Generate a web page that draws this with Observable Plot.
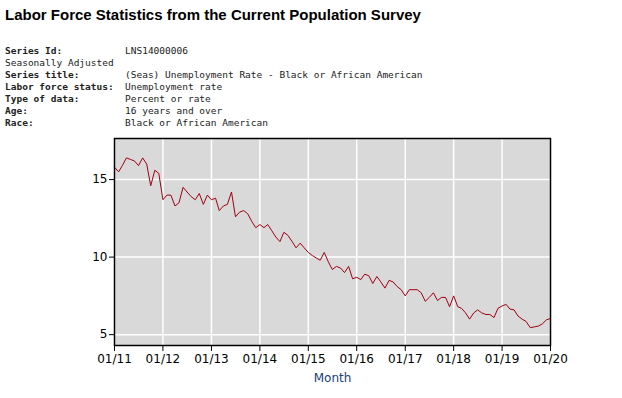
<!DOCTYPE html>
<html>
<head>
<meta charset="utf-8">
<script src="https://cdn.jsdelivr.net/npm/d3@7"></script>
<script src="https://cdn.jsdelivr.net/npm/@observablehq/plot@0.6"></script>
<style>
  html, body { margin: 0; padding: 0; background: #fff; width: 622px; height: 398px; overflow: hidden; }
  #title { position: absolute; left: 5px; top: 6px; font: bold 15px "Liberation Sans", Arial, sans-serif; color: #000; white-space: nowrap; }
  #meta { position: absolute; left: 5px; top: 45px; font: 9.5px "DejaVu Sans Mono", "Liberation Mono", monospace; color: #222; line-height: 12px; }
  #meta .row { height: 12px; white-space: nowrap; position: relative; }
  #meta .k { font-weight: bold; }
  #meta .v { position: absolute; left: 120px; top: 0; }
  #chart { position: absolute; left: 0; top: 130px; }
</style>
</head>
<body>
<div id="title">Labor Force Statistics from the Current Population Survey</div>
<div id="meta"></div>
<div id="chart"></div>
<script>
// ---- data ----
const metaLabels = ["Series Id:", "Seasonally Adjusted", "Series title:", "Labor force status:", "Type of data:", "Age:", "Race:"];
const metaValues = ["LNS14000006", "", "(Seas) Unemployment Rate - Black or African American", "Unemployment rate", "Percent or rate", "16 years and over", "Black or African American"];
const startYear = 2011; // first month: January 2011
const rates = [
  15.8, 15.5, 15.9, 16.4, 16.3, 16.2, 15.9, 16.4, 16.0, 14.6, 15.6, 15.4,
  13.7, 14.0, 14.0, 13.3, 13.5, 14.5, 14.2, 13.9, 13.7, 14.1, 13.4, 14.0,
  13.7, 13.8, 13.0, 13.3, 13.4, 14.2, 12.6, 12.9, 13.0, 12.8, 12.3, 11.9,
  12.1, 11.9, 12.1, 11.7, 11.3, 11.0, 11.6, 11.4, 11.0, 10.6, 10.9, 10.6,
  10.3, 10.1, 9.95, 9.8, 10.3, 9.7, 9.2, 9.4, 9.3, 9.0, 9.4, 8.6,
  8.7, 8.55, 8.9, 8.8, 8.3, 8.75, 8.4, 8.0, 8.5, 8.4, 8.1, 7.9,
  7.5, 7.9, 7.9, 7.9, 7.7, 7.15, 7.4, 7.7, 7.2, 7.4, 7.4, 6.8,
  7.5, 6.8, 6.7, 6.4, 6.0, 6.4, 6.6, 6.4, 6.3, 6.3, 6.1, 6.7,
  6.85, 6.95, 6.65, 6.6, 6.2, 6.0, 5.85, 5.45, 5.5, 5.55, 5.7, 5.95,
  6.05
];
const yTicks = [5, 10, 15];
const xTickYears = [2011, 2012, 2013, 2014, 2015, 2016, 2017, 2018, 2019, 2020];
const xLabel = "Month";

// ---- header ----
const meta = document.getElementById("meta");
metaLabels.forEach((k, i) => {
  const row = document.createElement("div");
  row.className = "row";
  const ks = document.createElement("span");
  ks.textContent = k;
  if (k !== "Seasonally Adjusted") ks.className = "k";
  row.appendChild(ks);
  if (metaValues[i]) {
    const vs = document.createElement("span");
    vs.className = "v";
    vs.textContent = metaValues[i];
    row.appendChild(vs);
  }
  meta.appendChild(row);
});

// ---- chart ----
const data = rates.map((v, i) => ({date: new Date(Date.UTC(startYear + Math.floor(i / 12), i % 12, 1)), rate: v}));
const xTicks = xTickYears.map(y => new Date(Date.UTC(y, 0, 1)));
const fmt = d3.utcFormat("%m/%y");

const chart = Plot.plot({
  width: 622,
  height: 268,
  marginTop: 8,
  marginBottom: 53,
  marginLeft: 114,
  marginRight: 72,
  style: {fontFamily: "DejaVu Sans, sans-serif", fontSize: "12px", color: "#000", background: "transparent"},
  x: {type: "utc", domain: [xTicks[0], xTicks[xTicks.length - 1]], label: null},
  y: {domain: [4.3, 17.65], label: null},
  marks: [
    Plot.frame({fill: "#d9d9d9", stroke: null}),
    Plot.gridX(xTicks, {stroke: "#fff", strokeOpacity: 1, strokeWidth: 1.5}),
    Plot.gridY(yTicks, {stroke: "#fff", strokeOpacity: 1, strokeWidth: 1.5}),
    Plot.line(data, {x: "date", y: "rate", stroke: "#a00010", strokeWidth: 1}),
    Plot.frame({stroke: "#000", strokeWidth: 1.5}),
    Plot.axisX(xTicks, {tickFormat: fmt, tickSize: 6, tickPadding: 3, fontSize: 12, stroke: "#000", fill: "#000", label: null}),
    Plot.axisY(yTicks, {tickSize: 5, tickPadding: 2, fontSize: 12, stroke: "#000", fill: "#000", label: null}),
    Plot.text([xLabel], {frameAnchor: "bottom", dy: 33, fill: "#1a4080", fontSize: 12, lineAnchor: "middle"})
  ]
});
document.getElementById("chart").appendChild(chart);
</script>
</body>
</html>
